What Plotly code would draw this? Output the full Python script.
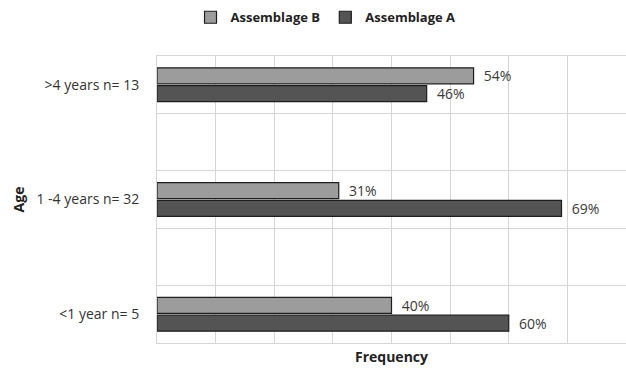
import plotly.graph_objects as go

categories = [">4 years n= 13", "1 -4 years n= 32", "<1 year n= 5"]
assemblage_b = [54, 31, 40]
assemblage_a = [46, 69, 60]
series_names = ["Assemblage B", "Assemblage A"]

ypos = list(range(len(categories)))

fig = go.Figure()
fig.add_trace(go.Bar(
    y=ypos, x=assemblage_b, orientation="h", name=series_names[0],
    marker=dict(color="#9c9c9c", line=dict(color="#1e1e1e", width=1.2)),
    text=[f"  {v}%" for v in assemblage_b], textposition="outside", constraintext="none",
    textfont=dict(size=14, color="#3a3a3a"), cliponaxis=False,
))
fig.add_trace(go.Bar(
    y=ypos, x=assemblage_a, orientation="h", name=series_names[1],
    marker=dict(color="#545454", line=dict(color="#1e1e1e", width=1.2)),
    text=[f"  {v}%" for v in assemblage_a], textposition="outside", constraintext="none",
    textfont=dict(size=14, color="#3a3a3a"), cliponaxis=False,
))

grid = "#d6d6d6"
fig.update_layout(
    width=626, height=368,
    margin=dict(l=157, r=0, t=56, b=25, autoexpand=False),
    paper_bgcolor="white", plot_bgcolor="white",
    barmode="group", bargap=0.69, bargroupgap=0.1,
    font=dict(family="Open Sans, Liberation Sans, sans-serif", color="#333333"),
    showlegend=True,
    legend=dict(orientation="h", xref="container", x=0.52, xanchor="center",
                yref="container", y=0.953, yanchor="middle",
                font=dict(size=13, color="#222222", weight="bold"),
                itemwidth=30, traceorder="normal"),
    xaxis=dict(range=[0, 80], dtick=10, showgrid=True, gridcolor=grid, gridwidth=1,
               zeroline=False, showticklabels=False, ticks="", automargin=False,
               showline=True, mirror=True, linecolor=grid, linewidth=1,
               title=dict(text="<b>Frequency</b>", font=dict(size=14, color="#222222"), standoff=9)),
    yaxis=dict(range=[2.25, -0.25], tickmode="array", tickvals=ypos, ticktext=categories,
               showgrid=False, zeroline=False, ticks="", ticklabelstandoff=14, automargin=False,
               tickfont=dict(size=14, color="#333333"),
               showline=True, mirror=True, linecolor=grid, linewidth=1,
               minor=dict(tickmode="array", tickvals=[-0.25, 0.25, 0.75, 1.25, 1.75, 2.25],
                          showgrid=True, gridcolor=grid, gridwidth=1, ticks=""),
               title=dict(text="<b>Age</b>", font=dict(size=14, color="#222222"), standoff=8)),
)

fig.write_html("out.html", config={"displayModeBar": False},
               post_script="document.body.style.margin='0';document.body.style.overflow='hidden';")
